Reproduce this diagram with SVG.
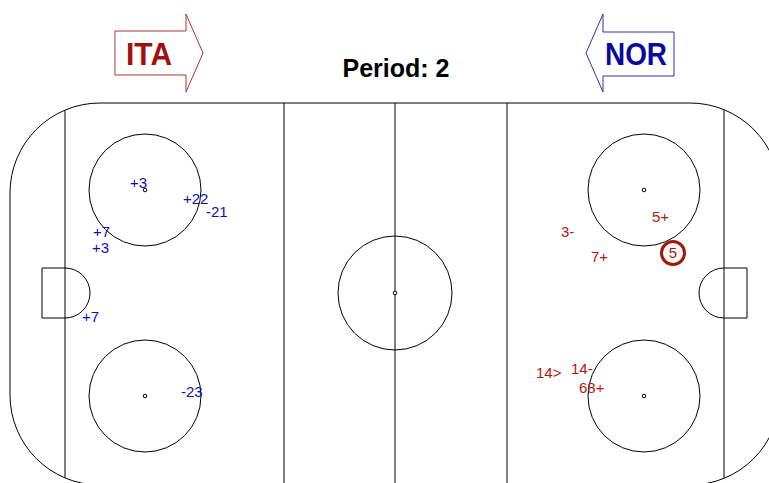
<svg xmlns="http://www.w3.org/2000/svg" width="769" height="483" viewBox="0 0 769 483">
<style>
.ln{fill:none;stroke:#000;stroke-width:1}
.dot{fill:#fff;stroke:#000;stroke-width:1}
.b{font-family:"Liberation Sans",Arial,sans-serif;font-size:15px;fill:#1010B0}
.r{font-family:"Liberation Sans",Arial,sans-serif;font-size:15px;fill:#B01A0A}
</style>
<rect width="769" height="483" fill="#fff"/>
<g id="rink">
<path class="ln" d="M100,485 A90,90 0 0 1 10,395 L10,193 A90,90 0 0 1 100,103 L690,103 A90,90 0 0 1 780,193 L780,395 A90,90 0 0 1 690,485 Z"/>
<line class="ln" x1="65" y1="110" x2="65" y2="478"/>
<line class="ln" x1="724" y1="110" x2="724" y2="478"/>
<line class="ln" x1="284" y1="103" x2="284" y2="485"/>
<line class="ln" x1="507" y1="103" x2="507" y2="485"/>
<line class="ln" x1="395" y1="103" x2="395" y2="485"/>
<circle class="ln" cx="395" cy="293" r="57"/>
<circle class="dot" cx="395" cy="293" r="1.8"/>
<circle class="ln" cx="145" cy="190" r="56"/>
<circle class="dot" cx="145" cy="190" r="1.8"/>
<circle class="ln" cx="145" cy="396" r="56"/>
<circle class="dot" cx="145" cy="396" r="1.8"/>
<circle class="ln" cx="644" cy="190" r="56"/>
<circle class="dot" cx="644" cy="190" r="1.8"/>
<circle class="ln" cx="644" cy="396" r="56"/>
<circle class="dot" cx="644" cy="396" r="1.8"/>
<path class="ln" d="M65,268 L42,268 L42,318 L65,318 M65,268 A25,25 0 0 1 65,318"/>
<path class="ln" d="M724,268 L747,268 L747,318 L724,318 M724,268 A25,25 0 0 0 724,318"/>
</g>
<g id="arrow-ita">
<path d="M115,31 L186,31 L186,14 L203,53 L186,92 L186,75 L115,75 Z" fill="#fff" stroke="#B03030" stroke-width="1"/>
<text x="126" y="65" font-family="'Liberation Sans',Arial,sans-serif" font-weight="bold" font-size="31" fill="#A01010" textLength="46" lengthAdjust="spacingAndGlyphs">ITA</text>
</g>
<g id="arrow-nor">
<path d="M674,32 L603,32 L603,14 L586,53 L603,92 L603,76 L674,76 Z" fill="#fff" stroke="#3030B0" stroke-width="1"/>
<text x="605" y="65" font-family="'Liberation Sans',Arial,sans-serif" font-weight="bold" font-size="31" fill="#0A0A9A" textLength="62" lengthAdjust="spacingAndGlyphs">NOR</text>
</g>
<g id="title">
<text x="396" y="77" text-anchor="middle" font-family="'Liberation Sans',Arial,sans-serif" font-weight="bold" font-size="25" fill="#000">Period: 2</text>
</g>
<g id="labels-ita">
<text class="b" x="130" y="188">+3</text>
<text class="b" x="183" y="204">+22</text>
<text class="b" x="206" y="217">-21</text>
<text class="b" x="93" y="237">+7</text>
<text class="b" x="92" y="253">+3</text>
<text class="b" x="82" y="322">+7</text>
<text class="b" x="181" y="397">-23</text>
</g>
<g id="labels-nor">
<text class="r" x="652" y="222">5+</text>
<text class="r" x="561" y="237">3-</text>
<text class="r" x="591" y="262">7+</text>
<circle cx="673" cy="253" r="11.5" fill="none" stroke="#A01A0A" stroke-width="3"/>
<text class="r" x="673" y="258" text-anchor="middle" font-size="14">5</text>
<text class="r" x="536" y="378">14&gt;</text>
<text class="r" x="571" y="374">14-</text>
<text class="r" x="579" y="393">68+</text>
</g>
</svg>
